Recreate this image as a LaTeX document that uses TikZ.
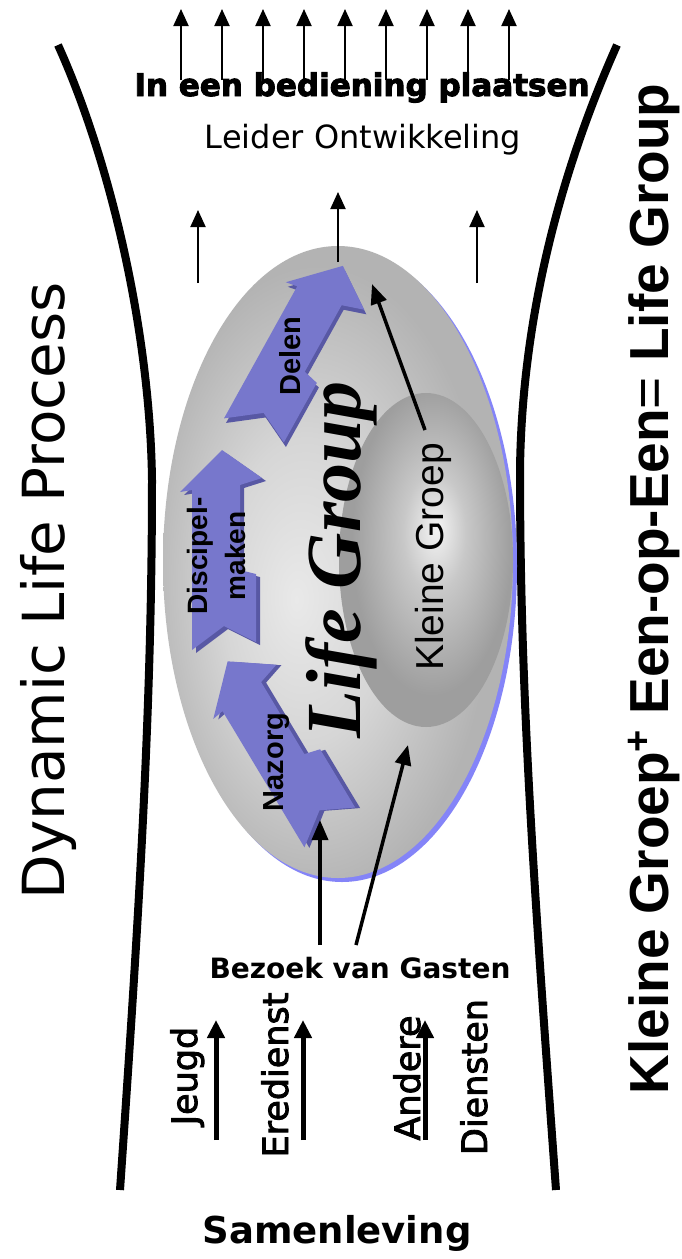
\documentclass[tikz,border=0pt]{standalone}
\usepackage{fontspec}
\setmainfont{DejaVu Sans}
\newfontfamily\arialfont{Liberation Sans}
\newfontfamily\timesfont{Liberation Serif}
\newfontfamily\heavyfont[FakeBold=3]{DejaVu Sans Bold}
\newfontfamily\semifont[FakeBold=2.5]{DejaVu Sans}
\usetikzlibrary{arrows.meta}
\definecolor{arrowblue}{HTML}{7777CC}
\definecolor{arrowside}{HTML}{5858A4}
\definecolor{rimblue}{HTML}{8484F8}
\definecolor{shadehi}{HTML}{E9E9E9}
\definecolor{shademid}{HTML}{D6D6D6}
\definecolor{shadelo}{HTML}{B3B3B3}
\definecolor{innerhi}{HTML}{F4F4F4}
\definecolor{innermid}{HTML}{C8C8C8}
\definecolor{innerlo}{HTML}{9E9E9E}
\pgfdeclareradialshading{outershade}{\pgfpoint{-6bp}{-3bp}}{color(0bp)=(shadehi); color(12bp)=(shademid); color(25bp)=(shadelo); color(50bp)=(shadelo)}
\pgfdeclareradialshading{innershade}{\pgfpoint{3bp}{5bp}}{color(0bp)=(innerhi); color(9bp)=(innermid); color(23bp)=(innerlo); color(50bp)=(innerlo)}
\begin{document}
\begin{tikzpicture}[x=1pt,y=-1pt,
 rail/.style={line width=8pt},
 thinarrow/.style={line width=2pt,-{Triangle[length=17pt,width=15pt]}},
 ptrarrow/.style={line width=3.5pt,-{Triangle[length=20pt,width=16pt]}},
 fatarrow/.style={line width=5pt,-{Triangle[length=18pt,width=17pt]}},
 lbl/.style={inner sep=0pt,anchor=base},
 vlbl/.style={inner sep=0pt,rotate=90,anchor=base}]
\fill[white] (0,0) rectangle (681,1259);
\useasboundingbox (0,0) rectangle (681,1259);
% funnel walls
\draw[rail] (58,45) .. controls (110,160) and (150,330) .. (152,480) .. controls (152,700) and (140,900) .. (120,1190);
\draw[rail] (617,45) .. controls (570,150) and (522,300) .. (520,470) .. controls (520,700) and (535,900) .. (556,1190);
% life group ellipse
\fill[rimblue] (342,566) ellipse [x radius=175, y radius=316];
\shade[shading=outershade] (338,562) ellipse [x radius=175, y radius=316];
\shade[shading=innershade] (426,560) ellipse [x radius=87, y radius=167];
% block arrows
\foreach \p/\a/\l in {{325,835}/31/199, {216,650}/0/200, {245,430}/-29/191}{
  \begin{scope}[shift={(\p)}, rotate=\a]
    \fill[arrowside, shift={(4pt,-3pt)}] (-24pt,0pt) -- (8pt,24pt) -- (40pt,8pt) -- (40pt,76pt) -- (24pt,80pt) -- (24pt,\l*1pt-35pt) -- (46pt,\l*1pt-28pt) -- (6pt,\l*1pt) -- (-36pt,\l*1pt-42pt) -- (-24pt,\l*1pt-40pt) -- cycle;
    \fill[arrowblue] (-24pt,0pt) -- (8pt,24pt) -- (40pt,8pt) -- (40pt,76pt) -- (24pt,80pt) -- (24pt,\l*1pt-35pt) -- (46pt,\l*1pt-28pt) -- (6pt,\l*1pt) -- (-36pt,\l*1pt-42pt) -- (-24pt,\l*1pt-40pt) -- cycle;
  \end{scope}
}
% texts
\node[lbl,font=\heavyfont\fontsize{31}{36}\selectfont] (plaatsen) at (362,96) {In een bediening plaatsen};
\node[lbl,font=\fontsize{32}{38}\selectfont] (leider) at (363,148) {Leider Ontwikkeling};
\node[vlbl,font=\fontsize{58}{66}\selectfont] (dynamic) at (64,591) {Dynamic Life Process};
\node[vlbl,font=\arialfont\bfseries\fontsize{55}{64}\selectfont] (formule) at (668,589) {Kleine Groep\raisebox{0.32em}{\fontsize{38}{40}\selectfont+} Een-op-Een{\mdseries=} Life Group};
\node[vlbl,font=\timesfont\bfseries\itshape\fontsize{78}{90}\selectfont] (lifegroup) at (360,560) {Life Group};
\node[vlbl,font=\arialfont\fontsize{39}{46}\selectfont] (kleine) at (443,557) {Kleine Groep};
\node[vlbl,font=\arialfont\bfseries\fontsize{29}{34}\selectfont] (delen) at (300,356) {Delen};
\node[inner sep=0pt,rotate=90,align=center,font=\arialfont\bfseries\fontsize{28}{38}\selectfont] (discipel) at (216,556) {Discipel-\\maken};
\node[vlbl,font=\arialfont\bfseries\fontsize{29}{34}\selectfont] (nazorg) at (283,762) {Nazorg};
\node[lbl,font=\bfseries\fontsize{28}{34}\selectfont] (bezoek) at (360,978) {Bezoek van Gasten};
\node[vlbl,font=\semifont\fontsize{35}{42}\selectfont] (jeugd) at (197,1076) {Jeugd};
\node[vlbl,font=\semifont\fontsize{35}{42}\selectfont] (eredienst) at (288,1075) {Eredienst};
\node[vlbl,font=\semifont\fontsize{35}{42}\selectfont] (andere) at (420,1078) {Andere};
\node[vlbl,font=\semifont\fontsize{35}{42}\selectfont] (diensten) at (487,1077) {Diensten};
\node[lbl,font=\bfseries\fontsize{37}{44}\selectfont] (samenleving) at (337,1243) {Samenleving};
% arrows
\foreach \i in {0,...,8}{
  \coordinate (top\i) at ({181+41*\i},80);
  \coordinate (tip\i) at ({181+41*\i},9);
  \draw[thinarrow] (top\i) -- (tip\i);
}
\coordinate (midl) at (198,283);
\coordinate (midltip) at (198,210);
\coordinate (midc) at (338,262);
\coordinate (midctip) at (338,192);
\coordinate (midr) at (477,283);
\coordinate (midrtip) at (477,210);
\draw[thinarrow] (midl) -- (midltip);
\draw[thinarrow] (midc) -- (midctip);
\draw[thinarrow] (midr) -- (midrtip);
\coordinate (kgtail) at (425,430);
\coordinate (kgtip) at (372,284);
\draw[ptrarrow] (kgtail) -- (kgtip);
\coordinate (bz1) at (320,945);
\coordinate (bz1tip) at (320,820);
\coordinate (bz2) at (356,945);
\coordinate (bz2tip) at (408,745);
\draw[ptrarrow] (bz1) -- (bz1tip);
\draw[ptrarrow] (bz2) -- (bz2tip);
\foreach \x/\n in {216/j, 303/e, 425/a}{
  \coordinate (\n foot) at (\x,1140);
  \coordinate (\n head) at (\x,1020);
  \draw[fatarrow] (\n foot) -- (\n head);
}
\end{tikzpicture}
\end{document}
